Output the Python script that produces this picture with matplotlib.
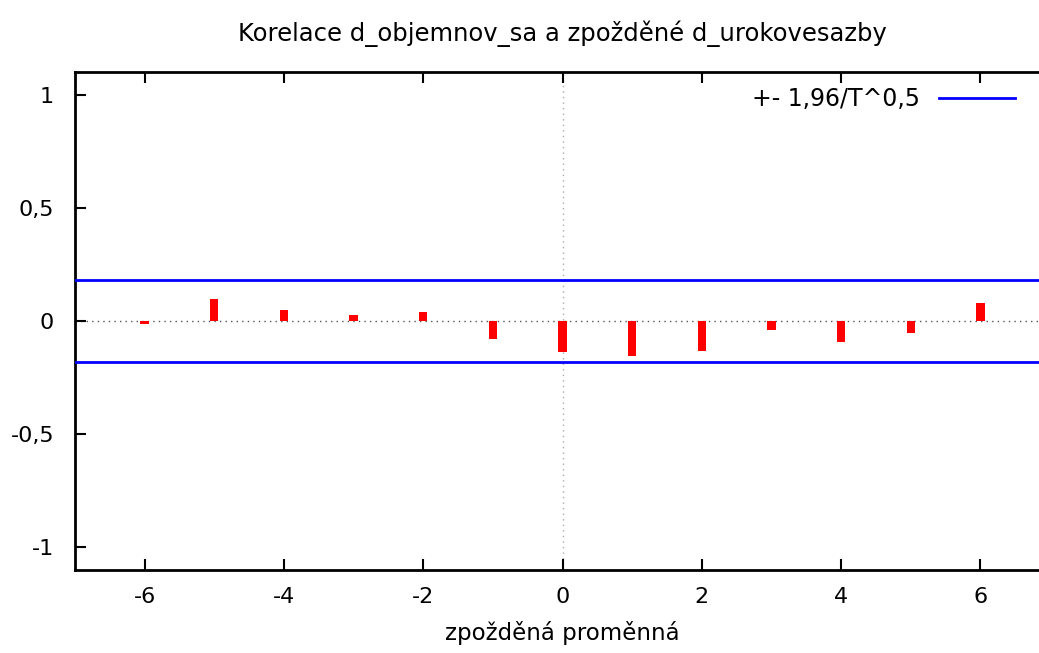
import matplotlib
matplotlib.use("Agg")
import matplotlib.pyplot as plt

# lags and cross-correlations
lags = [-6, -5, -4, -3, -2, -1, 0, 1, 2, 3, 4, 5, 6]
xcf = [-0.015, 0.098, 0.050, 0.028, 0.038, -0.081, -0.138,
       -0.154, -0.133, -0.041, -0.091, -0.054, 0.081]
band = 0.18  # 1,96/T^0,5

xticks = [-6, -4, -2, 0, 2, 4, 6]
yticks = [-1, -0.5, 0, 0.5, 1]
ytick_labels = ['-1', '-0,5', '0', '0,5', '1']

plt.rcParams['font.family'] = ['DejaVu Sans']
plt.rcParams['axes.unicode_minus'] = False
fs = 16

fig = plt.figure(figsize=(10.39, 6.53), dpi=100)
# right edge of the frame lies outside the picture in the reference
ax = fig.add_axes([75 / 1039, 1 - 570 / 653, 975 / 1039, 498 / 653])

ax.axhline(0, color='#555555', lw=1, ls=(0, (1, 3)), zorder=1)
ax.axvline(0, color='#aaaaaa', lw=1, ls=(0, (1, 3)), zorder=1)

ax.bar(lags, xcf, width=0.12, color='#ff0000', zorder=2)
ax.axhline(band, color='#0000ff', lw=2, label='+- 1,96/T^0,5', zorder=3)
ax.axhline(-band, color='#0000ff', lw=2, zorder=3)

ax.set_xlim(-7, 7)
ax.set_ylim(-1.1, 1.1)
ax.set_xticks(xticks)
ax.set_xticklabels([str(x) for x in xticks])
ax.set_yticks(yticks)
ax.set_yticklabels(ytick_labels)
ax.tick_params(direction='in', length=8, width=1.5, labelsize=fs,
               top=True, right=True)
ax.tick_params(axis='x', pad=12)
ax.tick_params(axis='y', pad=15)
for s in ax.spines.values():
    s.set_linewidth(2)

ax.set_xlabel('zpožděná proměnná', fontsize=fs + 0.5, labelpad=10)
ax.set_title('Korelace d_objemnov_sa a zpožděné d_urokovesazby',
             fontsize=17.5, pad=22)

ax.legend(loc='upper right', bbox_to_anchor=(1024 / 1039, 1 - 78 / 653),
          bbox_transform=fig.transFigure, borderaxespad=0, frameon=False,
          markerfirst=False, fontsize=17, handlelength=3.2, handletextpad=0.8)

fig.savefig('out.png', dpi=100)
